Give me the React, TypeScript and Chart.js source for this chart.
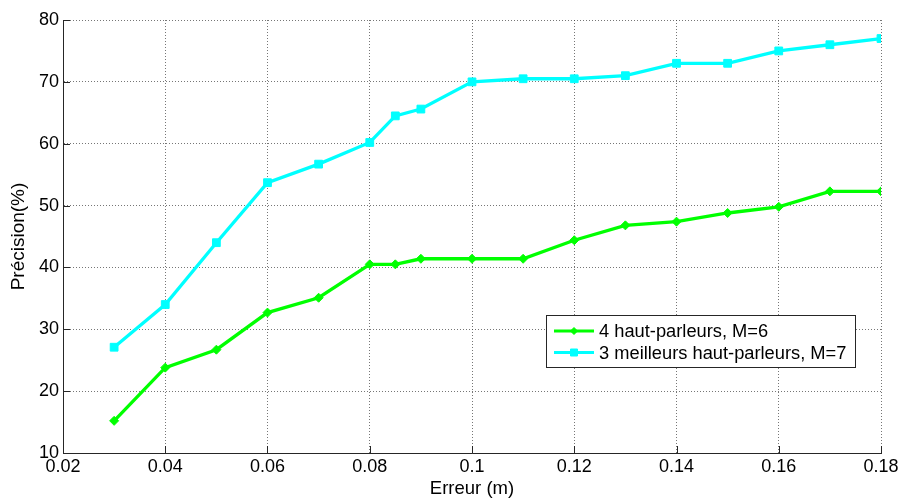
import React, { useEffect, useRef } from 'react';
import { Chart, registerables } from 'chart.js';

Chart.register(...registerables);

// ---- Data ----
const errors = [0.03, 0.04, 0.05, 0.06, 0.07, 0.08, 0.085, 0.09, 0.1, 0.11, 0.12, 0.13, 0.14, 0.15, 0.16, 0.17, 0.18];
const precision4Speakers = [15.2, 23.8, 26.7, 32.7, 35.1, 40.5, 40.5, 41.4, 41.4, 41.4, 44.4, 46.8, 47.4, 48.8, 49.8, 52.3, 52.3];
const precision3Best = [27.1, 34.0, 44.0, 53.7, 56.7, 60.2, 64.5, 65.6, 70.0, 70.5, 70.5, 71.0, 73.0, 73.0, 75.0, 76.0, 77.0];
const seriesLabels = ['4 haut-parleurs, M=6', '3 meilleurs haut-parleurs, M=7'];
const xTickValues = [0.02, 0.04, 0.06, 0.08, 0.1, 0.12, 0.14, 0.16, 0.18];
const yTickValues = [10, 20, 30, 40, 50, 60, 70, 80];
const xTitle = 'Erreur (m)';
const yTitle = 'Précision(%)';

// ---- Style ----
const FONT = '"Liberation Sans", Arial, Helvetica, sans-serif';
const GREEN = '#00ff00';
const CYAN = '#00ffff';
const AXIS = '#262626';
const GRID = 'rgba(60,60,60,0.7)';

const fmt = (v: number) => String(Number(Number(v).toFixed(3)));

function drawMarker(ctx: CanvasRenderingContext2D, style: string, x: number, y: number, r: number, color: string) {
  ctx.save();
  ctx.fillStyle = color;
  ctx.strokeStyle = color;
  ctx.lineWidth = 1;
  ctx.beginPath();
  if (style === 'rectRot') {
    ctx.moveTo(x, y - r);
    ctx.lineTo(x + r, y);
    ctx.lineTo(x, y + r);
    ctx.lineTo(x - r, y);
    ctx.closePath();
  } else {
    ctx.rect(x - r, y - r, 2 * r, 2 * r);
  }
  ctx.fill();
  ctx.stroke();
  ctx.restore();
}

const matlabPlugin = {
  id: 'matlabDecor',
  afterDatasetsDraw(chart: any) {
    const { ctx, chartArea } = chart;
    const { left, right, bottom } = chartArea;
    const xs = chart.scales.x;
    const ys = chart.scales.y;
    ctx.save();
    // inward tick marks
    ctx.strokeStyle = AXIS;
    ctx.lineWidth = 1;
    ctx.setLineDash([]);
    ctx.beginPath();
    xs.ticks.forEach((t: any) => {
      const px = Math.round(xs.getPixelForValue(t.value)) + 0.5;
      ctx.moveTo(px, bottom);
      ctx.lineTo(px, bottom - 7);
    });
    ys.ticks.forEach((t: any) => {
      const py = Math.round(ys.getPixelForValue(t.value)) + 0.5;
      ctx.moveTo(left, py);
      ctx.lineTo(left + 7, py);
    });
    ctx.stroke();

    // legend box
    ctx.font = `18.3px ${FONT}`;
    const textW = Math.max(...seriesLabels.map((s) => ctx.measureText(s).width));
    const boxW = Math.round(53 + textW + 9);
    const boxH = 52;
    const boxRight = Math.round(right - 26);
    const boxLeft = boxRight - boxW;
    const boxTop = Math.round(bottom - 138);
    ctx.fillStyle = '#ffffff';
    ctx.fillRect(boxLeft, boxTop, boxW, boxH);
    ctx.strokeStyle = AXIS;
    ctx.lineWidth = 1;
    ctx.strokeRect(boxLeft + 0.5, boxTop + 0.5, boxW, boxH);
    chart.data.datasets.forEach((ds: any, i: number) => {
      const cy = boxTop + 16 + i * 21.5;
      ctx.strokeStyle = ds.borderColor;
      ctx.lineWidth = 3;
      ctx.beginPath();
      ctx.moveTo(boxLeft + 8, cy);
      ctx.lineTo(boxLeft + 48, cy);
      ctx.stroke();
      drawMarker(ctx, ds.pointStyle, boxLeft + 28, cy, 3.5, ds.borderColor);
      ctx.fillStyle = '#000';
      ctx.textBaseline = 'middle';
      ctx.textAlign = 'left';
      ctx.fillText(ds.label, boxLeft + 53, cy + 1);
    });
    ctx.restore();
  },
};

export default function App() {
  const ref = useRef<HTMLCanvasElement>(null);
  useEffect(() => {
    const canvas = ref.current;
    if (!canvas) return;
    const chart = new Chart(canvas, {
      type: 'line',
      data: {
        datasets: [
          {
            label: seriesLabels[0],
            data: errors.map((x, i) => ({ x, y: precision4Speakers[i] })),
            borderColor: GREEN,
            backgroundColor: GREEN,
            borderWidth: 3.3,
            pointStyle: 'rectRot',
            pointRadius: 4.5,
            pointBorderWidth: 1,
            tension: 0,
          },
          {
            label: seriesLabels[1],
            data: errors.map((x, i) => ({ x, y: precision3Best[i] })),
            borderColor: CYAN,
            backgroundColor: CYAN,
            borderWidth: 3.3,
            pointStyle: 'rect',
            pointRadius: 5.5,
            pointBorderWidth: 1,
            tension: 0,
          },
        ],
      },
      options: {
        responsive: false,
        animation: false,
        devicePixelRatio: 1,
        layout: { padding: { top: 20, right: 22, left: 0, bottom: 0 } },
        plugins: { legend: { display: false }, tooltip: { enabled: false } },
        scales: {
          x: {
            type: 'linear',
            min: 0.02,
            max: 0.18,
            afterBuildTicks: (s: any) => {
              s.ticks = xTickValues.map((value) => ({ value }));
            },
            afterFit: (s: any) => {
              s.height = 48;
            },
            ticks: {
              callback: (v: any) => fmt(v),
              font: { family: FONT, size: 18 },
              color: '#000',
              padding: 3,
              maxRotation: 0,
              autoSkip: false,
            },
            grid: { color: GRID, lineWidth: 1, drawTicks: false },
            border: { display: true, color: AXIS, width: 1, dash: [1, 2] },
            title: {
              display: true,
              text: xTitle,
              font: { family: FONT, size: 18.5 },
              color: '#000',
              padding: { top: 0, bottom: 1 },
            },
          },
          y: {
            type: 'linear',
            min: 10,
            max: 80,
            afterBuildTicks: (s: any) => {
              s.ticks = yTickValues.map((value) => ({ value }));
            },
            afterFit: (s: any) => {
              s.width = 63;
            },
            ticks: {
              callback: (v: any) => fmt(v),
              font: { family: FONT, size: 18 },
              color: '#000',
              padding: 4,
              autoSkip: false,
            },
            grid: { color: GRID, lineWidth: 1, drawTicks: false },
            border: { display: true, color: AXIS, width: 1, dash: [1, 2] },
            title: {
              display: true,
              text: yTitle,
              font: { family: FONT, size: 19 },
              color: '#000',
              padding: { top: 7, bottom: 0 },
            },
          },
        },
      } as any,
      plugins: [matlabPlugin],
    });
    return () => chart.destroy();
  }, []);

  return (
    <div style={{ position: 'absolute', left: 0, top: 0, width: 903, height: 501, background: '#fff' }}>
      <canvas ref={ref} width={903} height={501} style={{ width: 903, height: 501, display: 'block' }} />
    </div>
  );
}
